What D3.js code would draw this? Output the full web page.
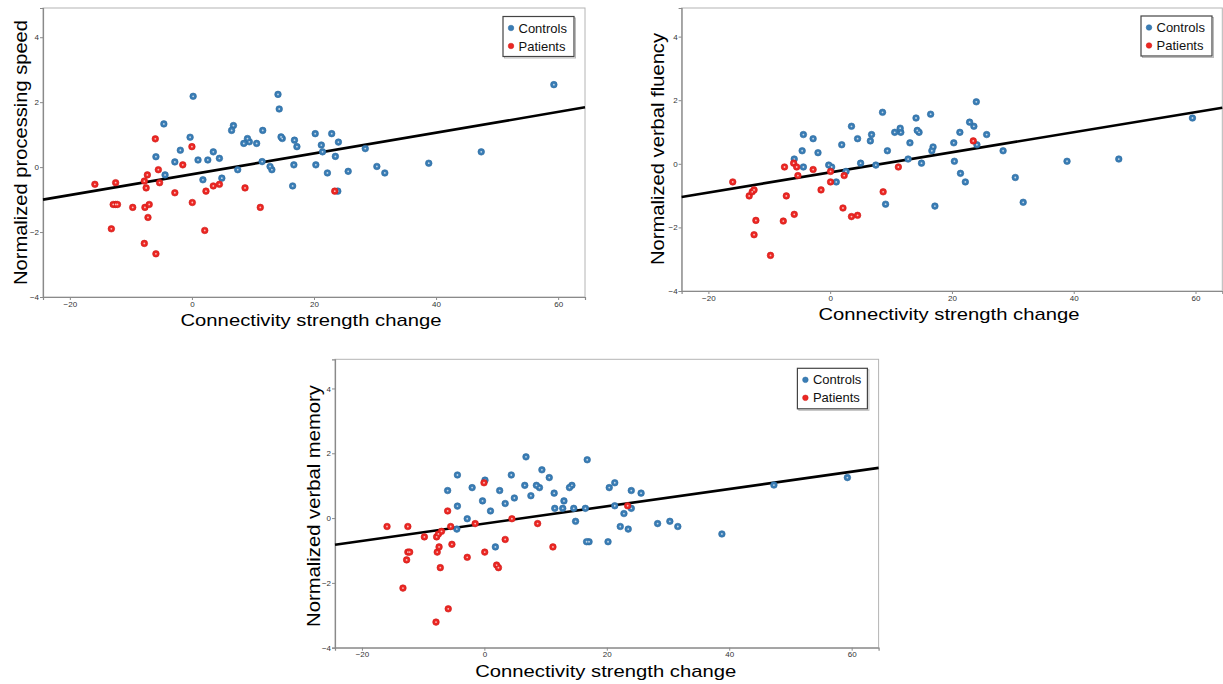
<!DOCTYPE html>
<html><head><meta charset="utf-8">
<script src="https://cdn.jsdelivr.net/npm/d3@7"></script>
<style>
html,body{margin:0;padding:0;background:#fff;}
svg{display:block;font-family:"Liberation Sans",Arial,sans-serif;}
</style></head>
<body>
<svg id="chart" width="1223" height="684"></svg>
<script>
// ---------- DATA ----------
const xTicks = [-20, 0, 20, 40, 60];
const yTicks = [-4, -2, 0, 2, 4];
const xLabel = "Connectivity strength change";
const yLabels = ["Normalized processing speed", "Normalized verbal fluency", "Normalized verbal memory"];
const seriesNames = ["Controls", "Patients"];

// Panel 1: processing speed
const speedControls = [[59.3,2.54],[47.4,0.47],[38.8,0.12],[31.6,-0.18],[30.3,0.02],[28.4,0.57],[25.6,-0.13],[24.0,0.77],[23.5,0.33],[23.9,-0.74],[22.9,1.03],[22.2,-0.18],[21.4,0.47],[21.2,0.68],[20.3,0.07],[20.2,1.03],[17.2,0.63],[16.8,0.83],[16.7,0.07],[16.5,-0.58],[14.8,0.88],[14.6,0.93],[14.3,1.79],[14.1,2.24],[13.1,-0.08],[12.8,0.02],[11.6,1.13],[11.5,0.17],[10.6,0.73],[9.4,0.78],[9.1,0.88],[8.5,0.73],[7.5,-0.08],[6.8,1.28],[6.5,1.13],[4.9,-0.34],[4.5,0.27],[3.5,0.47],[2.6,0.22],[1.8,-0.39],[1.0,0.22],[0.2,2.18],[-0.3,0.92],[-1.9,0.52],[-2.8,0.16],[-4.4,-0.24],[-4.6,1.33],[-5.9,0.32]];
const speedPatients = [[-15.9,-0.53],[-12.5,-0.48],[-12.9,-1.15],[-12.5,-1.15],[-12.2,-1.15],[-13.2,-1.90],[-9.7,-1.24],[-7.8,-2.35],[-7.8,-0.43],[-7.7,-1.24],[-7.5,-0.64],[-7.3,-0.24],[-7.2,-1.55],[-7.0,-1.15],[-6.0,0.87],[-5.9,-2.67],[-5.5,-0.08],[-5.3,-0.48],[-2.8,-0.79],[-1.5,0.07],[0.0,0.63],[0.06,-1.09],[2.1,-1.95],[2.3,-0.74],[3.5,-0.58],[4.5,-0.53],[8.7,-0.64],[11.2,-1.24],[23.4,-0.74]];

// Panel 2: verbal fluency
const fluencyControls = [[59.5,1.44],[47.4,0.15],[38.9,0.08],[31.7,-1.21],[30.4,-0.43],[28.4,0.41],[25.7,0.92],[24.1,0.60],[24.0,1.95],[23.6,1.18],[22.9,1.31],[22.2,-0.57],[21.4,-0.30],[21.3,0.99],[20.4,0.08],[20.3,0.66],[17.2,-1.33],[16.9,0.53],[16.7,0.41],[16.5,1.56],[15.0,0.02],[14.6,0.99],[14.3,1.05],[14.1,1.44],[13.1,0.66],[12.8,0.15],[11.6,0.99],[11.5,1.12],[10.6,0.99],[9.4,0.41],[9.1,-1.27],[8.6,1.62],[7.5,-0.04],[6.8,0.92],[6.6,0.72],[5.0,0.02],[4.5,0.79],[3.5,1.18],[2.6,-0.24],[1.9,0.60],[1.0,-0.57],[0.24,-0.10],[-0.24,-0.04],[-2.0,0.35],[-2.8,0.79],[-4.4,-0.10],[-4.4,0.92],[-4.6,0.41],[-5.9,0.15]];
const fluencyPatients = [[-16.0,-0.57],[-13.3,-1.01],[-12.8,-0.88],[-12.5,-0.82],[-12.2,-1.78],[-12.5,-2.23],[-9.8,-2.88],[-7.7,-1.80],[-7.5,-0.10],[-7.2,-1.01],[-6.0,0.02],[-5.9,-1.59],[-5.5,-0.10],[-5.3,-0.37],[-2.8,-0.18],[-1.5,-0.82],[0.06,-0.24],[0.06,-0.57],[2.1,-1.39],[2.3,-0.37],[3.5,-1.66],[4.5,-1.62],[8.7,-0.88],[11.2,-0.10],[23.5,0.72]];

// Panel 3: verbal memory
const memoryControls = [[59.3,1.25],[47.3,1.02],[38.8,-0.49],[31.6,-0.26],[30.3,-0.10],[28.3,-0.17],[25.6,0.77],[24.0,0.85],[24.0,0.30],[23.5,-0.34],[22.8,0.14],[22.2,-0.26],[21.3,1.09],[21.3,0.38],[20.4,0.94],[20.2,-0.73],[17.1,-0.73],[16.7,-0.73],[16.8,1.80],[16.5,0.30],[14.9,-0.10],[14.6,0.30],[14.3,1.01],[13.9,0.94],[13.0,0.53],[12.8,0.30],[11.5,0.30],[11.4,0.77],[10.6,1.25],[9.4,1.49],[9.0,0.94],[8.5,1.01],[7.6,0.69],[6.8,1.89],[6.6,1.01],[4.9,0.62],[4.4,1.33],[3.4,0.45],[2.5,0.85],[1.8,-0.89],[1.0,0.22],[0.1,1.17],[-0.3,0.53],[-2.0,0.94],[-2.8,-0.02],[-4.4,0.37],[-4.4,1.33],[-4.5,-0.34],[-6.0,0.85]];
const memoryPatients = [[-15.9,-0.26],[-12.5,-0.26],[-12.5,-1.05],[-12.2,-1.05],[-12.7,-1.29],[-13.3,-2.16],[-9.8,-0.58],[-7.9,-3.21],[-7.8,-0.58],[-7.7,-1.05],[-7.5,-0.49],[-7.4,-0.89],[-7.2,-1.53],[-7.0,-0.41],[-6.0,0.22],[-5.9,-2.80],[-5.5,-0.26],[-5.3,-0.81],[-2.8,-1.21],[-1.5,-0.17],[-0.06,1.09],[0.06,-1.05],[2.0,-1.45],[2.3,-1.53],[3.4,-0.66],[4.5,-0.02],[8.7,-0.17],[11.2,-0.89],[23.4,0.38]];

// fitted regression lines (slope, intercept) per panel
const fitSlopes = [0.032, 0.0316, 0.0267];
const fitIntercepts = [-0.22, -0.27, -0.17];

// ---------- LAYOUT ----------
const colors = ["#3a7db5", "#ec2723"];
const strokeColors = ["#2a6aa0", "#cc1a17"];
const xDomain = [-24.4, 64.4];
const yDomain = [-4, 4.9];

const panels = [
  {l:43, r:585, t:8, b:297, data:[speedControls, speedPatients], ylab:{x:20, y:152.5}, xlab:{x:311, y:325.5}, leg:{x:503, y:16.5, w:71, h:40}},
  {l:681.6, r:1222.3, t:8, b:291, data:[fluencyControls, fluencyPatients], ylab:{x:657.5, y:149}, xlab:{x:949, y:319.5}, leg:{x:1141, y:16, w:71, h:40}},
  {l:335, r:878.6, t:359.3, b:647.7, data:[memoryControls, memoryPatients], ylab:{x:313, y:506}, xlab:{x:605.7, y:676.5}, leg:{x:797.4, y:368.3, w:70, h:40.5}}
];

const svg = d3.select("#chart");

panels.forEach((p, i) => {
  const x = d3.scaleLinear().domain(xDomain).range([p.l, p.r]);
  const y = d3.scaleLinear().domain(yDomain).range([p.b, p.t]);
  const g = svg.append("g");

  // frame
  g.append("rect").attr("x", p.l).attr("y", p.t).attr("width", p.r - p.l).attr("height", p.b - p.t)
    .attr("fill", "#fff").attr("stroke", "#b4b4b4").attr("stroke-width", 1);

  // axes
  const xa = g.append("g").attr("transform", `translate(0,${p.b})`)
    .call(d3.axisBottom(x).tickValues(xTicks).tickSize(3).tickPadding(1).tickFormat(d3.format("d")));
  const ya = g.append("g").attr("transform", `translate(${p.l},0)`)
    .call(d3.axisLeft(y).tickValues(yTicks).tickSize(3).tickPadding(1).tickFormat(d3.format("d")));
  [xa, ya].forEach(a => {
    a.select(".domain").attr("stroke", "#8a8a8a").attr("stroke-width", 1.2);
    a.selectAll(".tick line").attr("stroke", "#8a8a8a");
    a.selectAll(".tick text").attr("fill", "#333").style("font-size", "8px");
  });

  // regression line
  const lx = xDomain;
  g.append("line")
    .attr("x1", x(lx[0])).attr("y1", y(fitIntercepts[i] + fitSlopes[i] * lx[0]))
    .attr("x2", x(lx[1])).attr("y2", y(fitIntercepts[i] + fitSlopes[i] * lx[1]))
    .attr("stroke", "#000").attr("stroke-width", 2.6);

  // points (controls first, patients on top)
  p.data.forEach((ser, s) => {
    const pg = g.append("g");
    pg.selectAll("circle.pt").data(ser).join("circle").attr("class", "pt")
      .attr("cx", d => x(d[0])).attr("cy", d => y(d[1])).attr("r", 3.3)
      .attr("fill", colors[s]).attr("stroke", strokeColors[s]).attr("stroke-width", 0.6);
    pg.selectAll("circle.ctr").data(ser).join("circle").attr("class", "ctr")
      .attr("cx", d => x(d[0])).attr("cy", d => y(d[1])).attr("r", 0.9)
      .attr("fill", "#fff").attr("opacity", 0.7);
  });

  // legend
  const L = p.leg;
  g.append("rect").attr("x", L.x + 1.5).attr("y", L.y + 1.5).attr("width", L.w).attr("height", L.h)
    .attr("fill", "none").attr("stroke", "#bbb").attr("stroke-width", 1);
  g.append("rect").attr("x", L.x).attr("y", L.y).attr("width", L.w).attr("height", L.h)
    .attr("fill", "#fff").attr("stroke", "#444").attr("stroke-width", 1.2);
  seriesNames.forEach((name, s) => {
    const cy = L.y + 11.5 + s * 18;
    g.append("circle").attr("cx", L.x + 8).attr("cy", cy).attr("r", 2.8)
      .attr("fill", colors[s]).attr("stroke", strokeColors[s]).attr("stroke-width", 0.5);
    g.append("text").attr("x", L.x + 15.5).attr("y", cy + 4.6).text(name)
      .attr("fill", "#111").style("font-size", "13px");
  });

  // axis titles
  g.append("text").attr("x", p.xlab.x).attr("y", p.xlab.y).attr("text-anchor", "middle")
    .attr("textLength", 261).attr("lengthAdjust", "spacingAndGlyphs")
    .style("font-size", "17px").attr("fill", "#000").text(xLabel);
  const yl = yLabels[i];
  const ylLen = [265, 232, 242][i];
  g.append("text").attr("transform", `translate(${p.ylab.x + 6.5},${p.ylab.y}) rotate(-90)`)
    .attr("text-anchor", "middle").attr("textLength", ylLen).attr("lengthAdjust", "spacingAndGlyphs")
    .style("font-size", "19px").attr("fill", "#000").text(yl);
});
</script>
</body></html>
